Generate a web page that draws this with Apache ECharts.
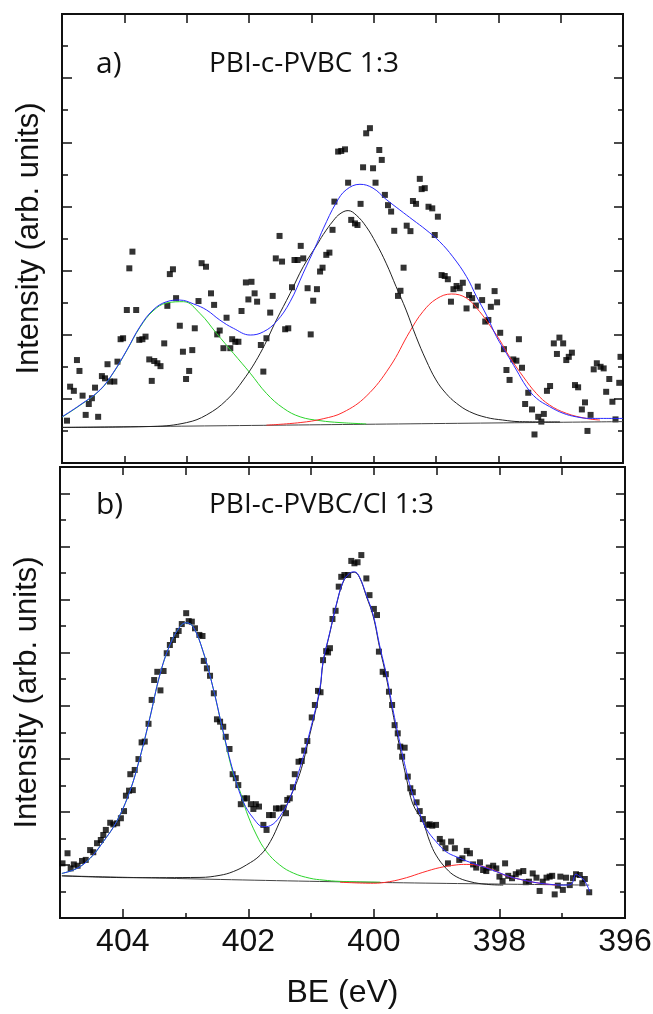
<!DOCTYPE html>
<html>
<head>
<meta charset="utf-8">
<script src="https://cdn.jsdelivr.net/npm/echarts@6/dist/echarts.min.js"></script>
<style>
html,body{margin:0;padding:0;background:#fff;}
#chart{width:653px;height:1014px;}
</style>
</head>
<body>
<div id="chart"></div>
<script>
// ---------- data (BE in eV, intensity in arb. units) ----------
const xTickLabels = [404, 402, 400, 398, 396];

const topPoints = [[404.92,1.32],[404.87,2.38],[404.81,2.25],[404.76,3.21],[404.72,2.87],[404.67,2.10],[404.62,1.50],[404.57,1.84],[404.52,2.02],[404.47,2.35],[404.42,1.44],[404.36,2.71],[404.31,2.64],[404.27,3.08],[404.23,2.54],[404.16,2.54],[404.11,3.16],[404.06,3.86],[404.02,3.89],[403.96,4.77],[403.92,6.07],[403.87,6.59],[403.81,4.77],[403.76,3.84],[403.71,3.86],[403.66,3.94],[403.60,3.23],[403.56,2.56],[403.52,3.18],[403.47,3.11],[403.42,3.02],[403.36,3.73],[403.31,4.90],[403.27,5.89],[403.22,6.04],[403.17,5.14],[403.11,4.28],[403.06,3.47],[403.01,2.62],[402.96,2.87],[402.91,3.52],[402.87,4.20],[402.81,5.05],[402.76,6.23],[402.69,6.12],[402.61,5.29],[402.56,4.93],[402.51,4.01],[402.47,4.13],[402.41,3.58],[402.36,4.53],[402.30,3.58],[402.27,3.86],[402.22,3.78],[402.17,3.78],[402.12,4.74],[402.05,5.63],[402.01,5.10],[401.96,5.65],[401.91,5.29],[401.87,5.03],[401.81,3.68],[401.77,2.85],[401.72,3.89],[401.66,4.69],[401.62,5.21],[401.57,6.38],[401.51,7.08],[401.47,6.28],[401.42,4.17],[401.37,4.20],[401.31,5.48],[401.27,6.33],[401.22,6.33],[401.17,6.77],[401.13,6.38],[401.06,5.45],[401.01,4.01],[400.97,5.06],[400.91,5.42],[400.86,5.97],[400.82,6.09],[400.76,6.49],[400.71,6.56],[400.66,7.27],[400.63,8.15],[400.57,9.71],[400.52,9.73],[400.46,9.78],[400.41,8.74],[400.36,7.58],[400.30,7.47],[400.26,7.42],[400.21,8.08],[400.17,9.22],[400.12,10.28],[400.06,10.44],[400.01,9.19],[399.97,8.74],[399.91,9.76],[399.87,9.45],[399.82,8.36],[399.77,8.04],[399.72,7.84],[399.67,7.24],[399.61,5.21],[399.57,5.37],[399.52,6.09],[399.47,7.40],[399.41,7.23],[399.37,8.17],[399.32,8.08],[399.26,8.86],[399.23,8.54],[399.18,8.57],[399.12,7.99],[399.06,7.94],[399.02,7.11],[398.97,7.68],[398.91,5.86],[398.86,5.83],[398.81,5.73],[398.76,5.03],[398.72,5.42],[398.67,5.52],[398.62,5.45],[398.57,5.62],[398.51,4.82],[398.47,5.24],[398.42,5.14],[398.36,4.91],[398.33,5.50],[398.26,5.08],[398.21,4.41],[398.16,4.46],[398.12,4.87],[398.06,5.36],[398.02,5.01],[397.97,4.06],[397.91,3.55],[397.87,2.90],[397.82,2.59],[397.76,3.23],[397.71,3.19],[397.67,3.86],[397.62,2.97],[397.57,1.84],[397.52,2.19],[397.46,1.67],[397.42,0.89],[397.36,1.44],[397.31,1.29],[397.27,1.53],[397.22,2.25],[397.17,2.40],[397.11,3.73],[397.06,3.40],[397.02,3.91],[396.96,3.73],[396.91,3.21],[396.87,3.31],[396.82,3.44],[396.77,2.43],[396.72,2.36],[396.66,1.67],[396.61,1.89],[396.57,1.00],[396.52,1.50],[396.47,2.92],[396.42,3.11],[396.36,3.00],[396.31,2.95],[396.27,2.22],[396.22,2.62],[396.17,1.91],[396.12,1.36],[396.06,2.50],[396.04,3.31]];

const topEnvelope = [[405.00,1.44],[404.71,1.81],[404.39,2.28],[404.18,2.81],[403.96,3.52],[403.75,4.25],[403.54,4.77],[403.32,5.03],[403.11,5.08],[402.89,4.96],[402.68,4.77],[402.47,4.46],[402.25,4.20],[401.98,3.99],[401.77,4.09],[401.56,4.41],[401.34,5.03],[401.13,5.92],[400.91,6.85],[400.81,7.30],[400.60,8.12],[400.44,8.52],[400.22,8.69],[400.01,8.57],[399.80,8.22],[399.58,7.89],[399.37,7.58],[399.16,7.27],[398.94,6.90],[398.73,6.43],[398.51,5.81],[398.35,5.19],[398.19,4.61],[398.03,3.94],[397.87,3.42],[397.71,2.90],[397.55,2.38],[397.39,2.02],[397.18,1.76],[396.96,1.55],[396.75,1.44],[396.53,1.39],[396.00,1.39]];

const topGreen = [[405.00,1.43],[404.71,1.80],[404.39,2.27],[404.18,2.80],[403.96,3.51],[403.75,4.23],[403.54,4.74],[403.32,4.99],[403.05,5.03],[402.79,4.67],[402.52,4.04],[402.25,3.42],[401.98,2.80],[401.72,2.17],[401.45,1.71],[401.18,1.44],[400.86,1.32],[400.54,1.26],[400.12,1.22]];

const topBlack = [[405.00,1.11],[403.54,1.14],[403.00,1.26],[402.68,1.50],[402.36,1.96],[402.09,2.59],[401.82,3.42],[401.56,4.46],[401.34,5.29],[401.13,6.12],[400.91,6.80],[400.81,7.12],[400.65,7.55],[400.54,7.77],[400.41,7.87],[400.28,7.73],[400.12,7.37],[399.96,6.85],[399.80,6.23],[399.64,5.50],[399.48,4.77],[399.32,3.94],[399.16,3.21],[399.00,2.59],[398.84,2.17],[398.67,1.86],[398.46,1.60],[398.19,1.42],[397.93,1.34],[397.66,1.29],[397.01,1.28]];

const topRed = [[401.72,1.18],[401.18,1.26],[400.81,1.38],[400.49,1.58],[400.12,2.08],[399.74,3.00],[399.42,4.10],[399.21,4.72],[398.99,5.12],[398.75,5.27],[398.51,5.14],[398.30,4.72],[398.14,4.30],[397.98,3.84],[397.82,3.31],[397.60,2.69],[397.39,2.17],[397.18,1.81],[396.91,1.55],[396.59,1.39],[396.37,1.34]];

const topBaseline = [[405.00,1.11],[400.50,1.20],[396.00,1.29]];

const bottomPoints = [[404.96,2.06],[404.88,2.44],[404.83,1.87],[404.78,2.02],[404.72,1.97],[404.65,2.15],[404.59,2.19],[404.52,2.56],[404.47,2.48],[404.41,2.82],[404.35,2.94],[404.31,3.13],[404.27,3.32],[404.20,3.59],[404.15,3.53],[404.09,3.57],[404.03,3.76],[403.98,4.03],[403.95,4.61],[403.90,4.80],[403.84,4.82],[403.88,5.42],[403.81,5.58],[403.75,5.99],[403.70,6.62],[403.65,6.65],[403.59,7.32],[403.54,8.22],[403.50,8.97],[403.45,9.28],[403.40,8.58],[403.35,9.31],[403.30,9.98],[403.25,10.29],[403.20,10.48],[403.15,10.67],[403.11,10.82],[403.06,11.08],[402.99,11.49],[402.95,11.19],[402.90,11.17],[402.85,10.92],[402.78,10.67],[402.73,10.63],[402.71,9.69],[402.66,9.41],[402.61,9.13],[402.55,8.47],[402.50,7.49],[402.45,7.40],[402.40,7.21],[402.36,6.83],[402.30,6.37],[402.25,5.42],[402.20,5.27],[402.16,5.01],[402.12,4.29],[402.07,4.51],[402.02,4.51],[401.96,4.29],[401.92,4.11],[401.88,4.29],[401.83,4.20],[401.76,3.51],[401.71,3.32],[401.67,3.88],[401.61,3.88],[401.56,4.13],[401.51,4.13],[401.44,4.16],[401.40,3.95],[401.38,4.45],[401.34,4.51],[401.29,4.93],[401.26,5.42],[401.20,5.89],[401.15,5.92],[401.11,6.31],[401.06,6.67],[400.99,7.56],[400.94,8.03],[400.89,8.56],[400.85,8.51],[400.81,9.72],[400.76,10.06],[400.73,10.01],[400.70,10.17],[400.66,11.27],[400.61,11.58],[400.56,12.49],[400.52,12.86],[400.47,12.93],[400.41,12.93],[400.36,13.46],[400.31,13.37],[400.26,13.41],[400.20,13.68],[400.12,12.80],[400.07,12.17],[400.00,11.65],[399.95,11.42],[399.92,10.04],[399.86,9.28],[399.81,9.19],[399.76,8.53],[399.71,8.03],[399.67,7.27],[399.62,6.96],[399.58,6.46],[399.55,6.08],[399.51,6.42],[399.46,5.33],[399.42,4.89],[399.38,4.74],[399.32,4.36],[399.27,4.03],[399.22,3.73],[399.15,3.51],[399.11,3.53],[399.07,3.48],[399.01,3.51],[398.95,2.98],[398.91,2.85],[398.86,2.63],[398.82,2.06],[398.77,2.88],[398.71,2.63],[398.64,2.19],[398.59,2.25],[398.52,2.53],[398.47,2.44],[398.42,2.02],[398.37,1.90],[398.31,2.10],[398.26,1.81],[398.21,1.77],[398.17,1.90],[398.10,1.97],[398.05,1.87],[398.00,1.56],[397.95,1.39],[397.91,2.06],[397.86,1.59],[397.80,1.50],[397.74,1.65],[397.69,1.72],[397.62,1.77],[397.58,1.35],[397.53,1.37],[397.47,1.68],[397.41,1.52],[397.36,1.02],[397.31,1.37],[397.25,1.52],[397.20,1.56],[397.16,1.59],[397.12,0.89],[397.07,1.22],[397.03,1.56],[396.99,1.06],[396.94,1.52],[396.88,1.24],[396.83,1.50],[396.78,1.65],[396.72,1.62],[396.68,1.31],[396.64,1.47],[396.57,0.97]];

const bottomEnvelope = [[404.97,1.68],[404.73,1.87],[404.52,2.25],[404.31,2.88],[404.10,3.63],[403.89,4.76],[403.73,6.02],[403.57,7.53],[403.41,9.16],[403.25,10.29],[403.09,10.98],[402.99,11.13],[402.88,10.98],[402.72,10.04],[402.56,8.66],[402.40,7.02],[402.24,5.51],[402.08,4.38],[401.92,3.76],[401.76,3.44],[401.65,3.48],[401.50,3.82],[401.34,4.51],[401.18,5.64],[401.02,7.02],[400.86,8.66],[400.81,9.66],[400.70,10.79],[400.60,11.80],[400.49,12.68],[400.39,12.99],[400.31,13.05],[400.23,12.86],[400.12,12.17],[400.01,11.42],[399.91,10.29],[399.80,9.16],[399.70,7.90],[399.59,6.65],[399.48,5.51],[399.38,4.64],[399.27,3.95],[399.17,3.38],[399.01,2.88],[398.85,2.50],[398.69,2.31],[398.47,2.10],[398.26,1.93],[398.05,1.75],[397.84,1.56],[397.62,1.43],[397.41,1.33],[397.20,1.27],[396.99,1.24],[396.86,1.27],[396.78,1.65],[396.72,1.56],[396.67,1.47],[396.62,1.31],[396.56,0.99]];

const bottomGreen = [[404.97,1.68],[404.73,1.87],[404.52,2.25],[404.31,2.88],[404.10,3.63],[403.89,4.76],[403.73,6.02],[403.57,7.53],[403.41,9.16],[403.25,10.29],[403.09,10.98],[402.99,11.13],[402.88,10.98],[402.72,10.04],[402.56,8.66],[402.40,6.99],[402.24,5.43],[402.13,4.76],[402.03,4.01],[401.87,3.13],[401.71,2.50],[401.50,2.00],[401.28,1.69],[401.02,1.50],[400.81,1.43],[400.54,1.38],[399.90,1.35]];

const bottomBlack = [[404.97,1.59],[403.83,1.52],[402.77,1.53],[402.45,1.61],[402.24,1.75],[402.03,2.00],[401.81,2.37],[401.65,2.88],[401.50,3.63],[401.34,4.51],[401.18,5.44],[401.02,6.92],[400.86,8.60],[400.81,9.62],[400.70,10.76],[400.60,11.78],[400.49,12.66],[400.39,12.97],[400.31,13.03],[400.23,12.84],[400.12,12.13],[400.01,11.36],[399.91,10.21],[399.80,9.05],[399.70,7.75],[399.59,6.45],[399.48,5.25],[399.38,4.30],[399.22,3.63],[399.11,2.88],[399.01,2.37],[398.85,1.87],[398.69,1.56],[398.47,1.37],[398.21,1.27],[397.94,1.24]];

const bottomRed = [[400.54,1.35],[400.01,1.31],[399.75,1.37],[399.48,1.52],[399.22,1.72],[398.95,1.90],[398.69,2.00],[398.53,2.02],[398.31,1.97],[398.10,1.81],[397.89,1.59],[397.62,1.43],[397.36,1.31],[397.09,1.24]];

const bottomBaseline = [[404.97,1.59],[400.70,1.37],[396.57,1.24]];

// ---------- chart ----------
const AX = '#111';
const tickFont = 'Liberation Sans, Arial, sans-serif';
const panelFont = 'Open Sans, Noto Sans, sans-serif';

function xAx(grid, pos, interval, len, extra) {
  return Object.assign({
    type: 'value', gridIndex: grid, position: pos, inverse: true,
    min: 396, max: 405, interval: interval,
    axisLine: {show: true, onZero: false, lineStyle: {color: AX, width: 2}},
    axisTick: {show: true, inside: true, length: len, lineStyle: {color: AX, width: 1.5}},
    axisLabel: {show: false}, splitLine: {show: false}
  }, extra || {});
}
function yAx(grid, pos, max, interval, len, extra) {
  return Object.assign({
    type: 'value', gridIndex: grid, position: pos,
    min: 0, max: max, interval: interval,
    axisLine: {show: true, onZero: false, lineStyle: {color: AX, width: 2}},
    axisTick: {show: true, inside: true, length: len, lineStyle: {color: AX, width: 1.5}},
    axisLabel: {show: false}, splitLine: {show: false}
  }, extra || {});
}
const yName = {
  name: 'Intensity (arb. units)', nameLocation: 'middle', nameGap: 17,
  nameTextStyle: {fontFamily: tickFont, fontSize: 31, color: AX}
};

function lineS(data, color, xi, yi, w) {
  return {type: 'line', data: data, xAxisIndex: xi, yAxisIndex: yi, smooth: 0.4,
    showSymbol: false, symbol: 'none', lineStyle: {color: color, width: w || 1}, z: 3, silent: true};
}
function pts(data, xi, yi) {
  return {type: 'scatter', data: data, xAxisIndex: xi, yAxisIndex: yi, symbol: 'rect',
    symbolSize: 6, itemStyle: {color: '#000'}, z: 2, silent: true};
}

const chart = echarts.init(document.getElementById('chart'), null, {renderer: 'canvas'});
chart.setOption({
  backgroundColor: '#fff',
  animation: false,
  grid: [
    {left: 62, top: 14, width: 561, height: 449, outerBoundsMode: 'none', containLabel: false},
    {left: 60, top: 467, width: 565, height: 451, outerBoundsMode: 'none', containLabel: false}
  ],
  xAxis: [
    xAx(0, 'bottom', 1, 7),
    xAx(0, 'top', 1, 9),
    xAx(1, 'bottom', 2, 9, {
      axisLabel: {show: true, margin: 8, fontFamily: tickFont, fontSize: 32, color: AX,
        formatter: v => (xTickLabels.indexOf(v) >= 0 ? String(v) : '')},
      name: 'BE (eV)', nameLocation: 'middle', nameGap: 59,
      nameTextStyle: {fontFamily: tickFont, fontSize: 32, color: AX}
    }),
    xAx(1, 'bottom', 1, 5),
    xAx(1, 'top', 1, 8)
  ],
  yAxis: [
    yAx(0, 'left', 14, 2, 10, yName),
    yAx(0, 'left', 14, 1, 6),
    yAx(0, 'right', 14, 2, 9),
    yAx(0, 'right', 14, 1, 5),
    yAx(1, 'left', 17, 2, 10, yName),
    yAx(1, 'left', 17, 1, 6),
    yAx(1, 'right', 17, 2, 9),
    yAx(1, 'right', 17, 1, 5)
  ],
  series: [
    pts(topPoints, 0, 0),
    lineS(topBaseline, '#444', 0, 0),
    lineS(topGreen, '#2bd42b', 0, 0),
    lineS(topRed, '#ff2b2b', 0, 0),
    lineS(topBlack, '#222', 0, 0),
    lineS(topEnvelope, '#2929ff', 0, 0),
    pts(bottomPoints, 2, 4),
    lineS(bottomBaseline, '#444', 2, 4),
    lineS(bottomGreen, '#2bd42b', 2, 4),
    lineS(bottomRed, '#ff2b2b', 2, 4),
    lineS(bottomBlack, '#222', 2, 4),
    lineS(bottomEnvelope, '#2929ff', 2, 4)
  ],
  graphic: [
    {type: 'text', left: 96, top: 49, style: {text: 'a)', font: '30px ' + panelFont, fill: '#111'}},
    {type: 'text', left: 209, top: 50, style: {text: 'PBI-c-PVBC 1:3', font: '28px ' + panelFont, fill: '#111'}},
    {type: 'text', left: 96, top: 490, style: {text: 'b)', font: '30px ' + panelFont, fill: '#111'}},
    {type: 'text', left: 209, top: 491, style: {text: 'PBI-c-PVBC/Cl 1:3', font: '28px ' + panelFont, fill: '#111'}}
  ]
});
</script>
</body>
</html>
